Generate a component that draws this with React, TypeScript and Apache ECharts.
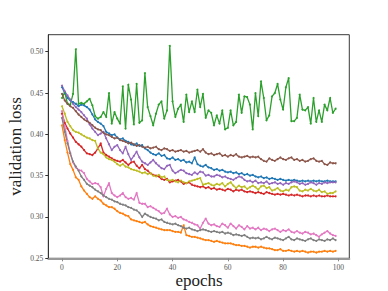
import React, { useEffect, useRef } from "react";
import * as echarts from "echarts";

const EPOCHS: number[] = Array.from({ length: 100 }, (_, i) => i);
const X_TICKS = [0, 20, 40, 60, 80, 100];
const Y_TICKS = [0.25, 0.3, 0.35, 0.4, 0.45, 0.5];

const BLUE = [0.457,0.450,0.444,0.441,0.439,0.437,0.434,0.436,0.435,0.433,0.430,0.424,0.418,0.415,0.413,0.410,0.403,0.401,0.399,0.400,0.396,0.394,0.395,0.392,0.391,0.388,0.387,0.389,0.386,0.387,0.383,0.381,0.378,0.376,0.375,0.377,0.374,0.375,0.371,0.370,0.372,0.369,0.370,0.368,0.369,0.366,0.367,0.365,0.372,0.364,0.362,0.361,0.363,0.360,0.359,0.357,0.358,0.356,0.357,0.355,0.354,0.355,0.353,0.354,0.352,0.353,0.351,0.352,0.350,0.351,0.349,0.348,0.349,0.347,0.348,0.346,0.347,0.346,0.345,0.346,0.345,0.344,0.345,0.344,0.345,0.344,0.343,0.344,0.343,0.344,0.343,0.344,0.343,0.344,0.343,0.343,0.344,0.343,0.343,0.343];
const ORANGE = [0.411,0.393,0.378,0.364,0.357,0.348,0.345,0.337,0.332,0.328,0.324,0.322,0.325,0.322,0.320,0.316,0.314,0.312,0.312,0.310,0.307,0.305,0.304,0.302,0.301,0.297,0.296,0.295,0.294,0.293,0.294,0.291,0.289,0.288,0.287,0.286,0.285,0.284,0.284,0.284,0.283,0.282,0.282,0.281,0.290,0.278,0.277,0.276,0.276,0.275,0.274,0.273,0.272,0.272,0.271,0.270,0.271,0.270,0.269,0.268,0.268,0.268,0.267,0.266,0.266,0.265,0.265,0.264,0.263,0.264,0.264,0.263,0.264,0.263,0.262,0.262,0.261,0.260,0.260,0.261,0.259,0.259,0.260,0.259,0.258,0.259,0.258,0.259,0.258,0.257,0.258,0.258,0.257,0.258,0.258,0.259,0.258,0.259,0.258,0.259];
const GREEN = [0.444,0.451,0.437,0.436,0.449,0.503,0.437,0.438,0.437,0.440,0.443,0.435,0.422,0.419,0.421,0.427,0.421,0.450,0.413,0.427,0.419,0.413,0.458,0.407,0.460,0.442,0.412,0.461,0.414,0.417,0.474,0.433,0.422,0.411,0.425,0.436,0.440,0.419,0.429,0.507,0.440,0.421,0.431,0.436,0.415,0.448,0.427,0.440,0.427,0.454,0.433,0.449,0.420,0.429,0.426,0.411,0.423,0.413,0.429,0.406,0.408,0.429,0.411,0.415,0.448,0.426,0.446,0.445,0.436,0.406,0.450,0.422,0.464,0.444,0.417,0.423,0.446,0.450,0.461,0.442,0.430,0.457,0.468,0.416,0.416,0.420,0.448,0.430,0.429,0.433,0.413,0.444,0.415,0.429,0.415,0.436,0.429,0.444,0.426,0.431];
const RED = [0.425,0.414,0.407,0.401,0.396,0.391,0.388,0.385,0.381,0.377,0.376,0.375,0.378,0.383,0.389,0.378,0.375,0.373,0.371,0.369,0.368,0.367,0.369,0.366,0.363,0.366,0.367,0.362,0.359,0.363,0.358,0.356,0.353,0.351,0.350,0.349,0.346,0.345,0.346,0.342,0.343,0.344,0.345,0.343,0.340,0.341,0.342,0.339,0.338,0.337,0.336,0.337,0.335,0.336,0.334,0.335,0.333,0.334,0.333,0.332,0.334,0.333,0.331,0.333,0.332,0.333,0.331,0.330,0.331,0.330,0.329,0.330,0.329,0.328,0.330,0.329,0.328,0.327,0.328,0.327,0.328,0.327,0.326,0.327,0.326,0.327,0.326,0.325,0.326,0.326,0.325,0.326,0.325,0.326,0.325,0.325,0.326,0.325,0.325,0.325];
const PURPLE = [0.459,0.452,0.447,0.442,0.437,0.433,0.430,0.427,0.423,0.419,0.412,0.407,0.403,0.399,0.401,0.403,0.395,0.388,0.381,0.385,0.387,0.381,0.377,0.385,0.376,0.369,0.374,0.379,0.372,0.367,0.365,0.363,0.366,0.369,0.365,0.362,0.359,0.358,0.362,0.363,0.356,0.353,0.355,0.357,0.356,0.353,0.352,0.351,0.354,0.352,0.355,0.354,0.350,0.351,0.349,0.349,0.351,0.350,0.348,0.349,0.347,0.346,0.345,0.347,0.349,0.348,0.345,0.343,0.344,0.342,0.344,0.341,0.342,0.341,0.343,0.340,0.341,0.342,0.340,0.341,0.339,0.341,0.340,0.342,0.343,0.342,0.340,0.341,0.339,0.340,0.342,0.341,0.339,0.341,0.340,0.342,0.341,0.342,0.342,0.342];
const BROWN = [0.449,0.441,0.437,0.434,0.432,0.428,0.424,0.421,0.418,0.416,0.414,0.411,0.408,0.406,0.405,0.402,0.400,0.399,0.397,0.395,0.396,0.393,0.392,0.391,0.389,0.390,0.388,0.386,0.387,0.385,0.384,0.385,0.383,0.384,0.385,0.382,0.381,0.383,0.382,0.380,0.381,0.379,0.380,0.381,0.379,0.380,0.378,0.379,0.380,0.381,0.379,0.382,0.378,0.376,0.377,0.375,0.376,0.377,0.374,0.375,0.373,0.375,0.374,0.376,0.373,0.372,0.373,0.374,0.372,0.373,0.372,0.373,0.370,0.368,0.367,0.371,0.369,0.368,0.370,0.372,0.370,0.369,0.371,0.372,0.369,0.370,0.368,0.369,0.367,0.368,0.370,0.371,0.368,0.367,0.368,0.364,0.363,0.366,0.365,0.365];
const PINK = [0.428,0.410,0.392,0.377,0.366,0.360,0.357,0.356,0.353,0.346,0.343,0.340,0.341,0.340,0.336,0.325,0.334,0.341,0.329,0.326,0.324,0.326,0.329,0.324,0.322,0.323,0.321,0.329,0.317,0.316,0.316,0.312,0.313,0.311,0.309,0.307,0.304,0.305,0.310,0.303,0.300,0.301,0.299,0.300,0.297,0.296,0.294,0.293,0.291,0.290,0.286,0.293,0.298,0.292,0.290,0.291,0.289,0.288,0.292,0.290,0.287,0.292,0.289,0.286,0.290,0.288,0.285,0.289,0.286,0.287,0.285,0.287,0.284,0.286,0.285,0.283,0.285,0.286,0.284,0.282,0.284,0.283,0.285,0.282,0.281,0.283,0.281,0.280,0.282,0.281,0.279,0.280,0.278,0.276,0.279,0.281,0.283,0.280,0.278,0.277];
const GRAY = [0.420,0.403,0.389,0.377,0.367,0.361,0.356,0.349,0.345,0.340,0.338,0.336,0.333,0.331,0.329,0.326,0.324,0.322,0.321,0.319,0.318,0.316,0.315,0.314,0.312,0.311,0.309,0.308,0.305,0.300,0.304,0.302,0.300,0.299,0.298,0.296,0.297,0.294,0.293,0.292,0.291,0.292,0.290,0.289,0.287,0.286,0.287,0.285,0.284,0.283,0.284,0.285,0.284,0.283,0.282,0.283,0.282,0.281,0.282,0.280,0.281,0.280,0.278,0.279,0.278,0.277,0.278,0.276,0.274,0.275,0.274,0.275,0.273,0.274,0.276,0.274,0.273,0.275,0.274,0.273,0.272,0.274,0.276,0.273,0.272,0.274,0.273,0.272,0.271,0.273,0.274,0.272,0.271,0.273,0.272,0.271,0.273,0.272,0.274,0.272];
const OLIVE = [0.434,0.425,0.415,0.410,0.405,0.403,0.402,0.400,0.398,0.396,0.395,0.393,0.392,0.383,0.378,0.376,0.372,0.370,0.369,0.367,0.364,0.362,0.364,0.361,0.360,0.358,0.357,0.356,0.355,0.353,0.354,0.352,0.353,0.350,0.349,0.351,0.348,0.349,0.345,0.344,0.345,0.343,0.342,0.344,0.342,0.341,0.343,0.344,0.345,0.346,0.347,0.339,0.340,0.341,0.339,0.338,0.340,0.339,0.341,0.337,0.340,0.342,0.338,0.335,0.338,0.336,0.337,0.334,0.336,0.338,0.336,0.333,0.337,0.338,0.335,0.336,0.332,0.333,0.335,0.332,0.331,0.333,0.332,0.336,0.337,0.336,0.332,0.331,0.333,0.332,0.334,0.332,0.331,0.333,0.330,0.331,0.328,0.329,0.329,0.331];

const SERIES = [
  { name: "run 1", color: "#1f77b4", values: BLUE },
  { name: "run 2", color: "#ff7f0e", values: ORANGE },
  { name: "run 3", color: "#2ca02c", values: GREEN },
  { name: "run 4", color: "#d62728", values: RED },
  { name: "run 5", color: "#9467bd", values: PURPLE },
  { name: "run 6", color: "#8c564b", values: BROWN },
  { name: "run 7", color: "#e377c2", values: PINK },
  { name: "run 8", color: "#7f7f7f", values: GRAY },
  { name: "run 9", color: "#bcbd22", values: OLIVE },
];

const FONT = "'Liberation Serif', 'DejaVu Serif', serif";

export default function App() {
  const ref = useRef<HTMLDivElement>(null);
  useEffect(() => {
    document.body.style.margin = "0";
    if (!ref.current) return;
    const chart = echarts.init(ref.current, null, { renderer: "svg" });
    chart.setOption({
      animation: false,
      backgroundColor: "#ffffff",
      grid: {
        left: 48.3,
        right: 38.7,
        top: 34.7,
        bottom: 32.7,
        show: true,
        borderColor: "#3a3a3a",
        borderWidth: 1,
        backgroundColor: "transparent",
      },
      xAxis: {
        type: "value",
        min: -4.95,
        max: 103.95,
        splitLine: { show: false },
        axisLine: { show: true, onZero: false, lineStyle: { color: "#999999", width: 2 } },
        axisTick: { show: true, customValues: X_TICKS, length: 3, lineStyle: { color: "#888888", width: 1 } },
        axisLabel: {
          customValues: X_TICKS,
          color: "#555555",
          fontFamily: FONT,
          fontSize: 7.5,
          margin: 5,
          formatter: (v: number) => String(v),
        },
      },
      yAxis: {
        type: "value",
        min: 0.25,
        max: 0.5206,
        splitLine: { show: false },
        axisLine: { show: true, onZero: false, lineStyle: { color: "#333333", width: 1 } },
        axisTick: { show: true, customValues: Y_TICKS, length: 3, lineStyle: { color: "#333333", width: 1 } },
        axisLabel: {
          customValues: Y_TICKS,
          color: "#555555",
          fontFamily: FONT,
          fontSize: 7.5,
          margin: 5,
          formatter: (v: number) => v.toFixed(2),
        },
      },
      graphic: [
        {
          type: "text",
          x: 199,
          y: 280,
          style: {
            text: "epochs",
            fill: "#222222",
            font: `17px ${FONT}`,
            textAlign: "center",
            textVerticalAlign: "middle",
          },
        },
        {
          type: "text",
          x: 15,
          y: 146.5,
          rotation: Math.PI / 2,
          style: {
            text: "validation loss",
            fill: "#222222",
            font: `17px ${FONT}`,
            textAlign: "center",
            textVerticalAlign: "middle",
          },
        },
      ],
      series: SERIES.map((s) => ({
        name: s.name,
        type: "line",
        data: EPOCHS.map((e, i) => [e, s.values[i]]),
        symbol: "circle",
        symbolSize: 2,
        showSymbol: true,
        lineStyle: { color: s.color, width: 1.3 },
        itemStyle: { color: s.color },
        emphasis: { disabled: true },
      })),
    });
    return () => chart.dispose();
  }, []);
  return <div ref={ref} style={{ width: 388, height: 291 }} />;
}
